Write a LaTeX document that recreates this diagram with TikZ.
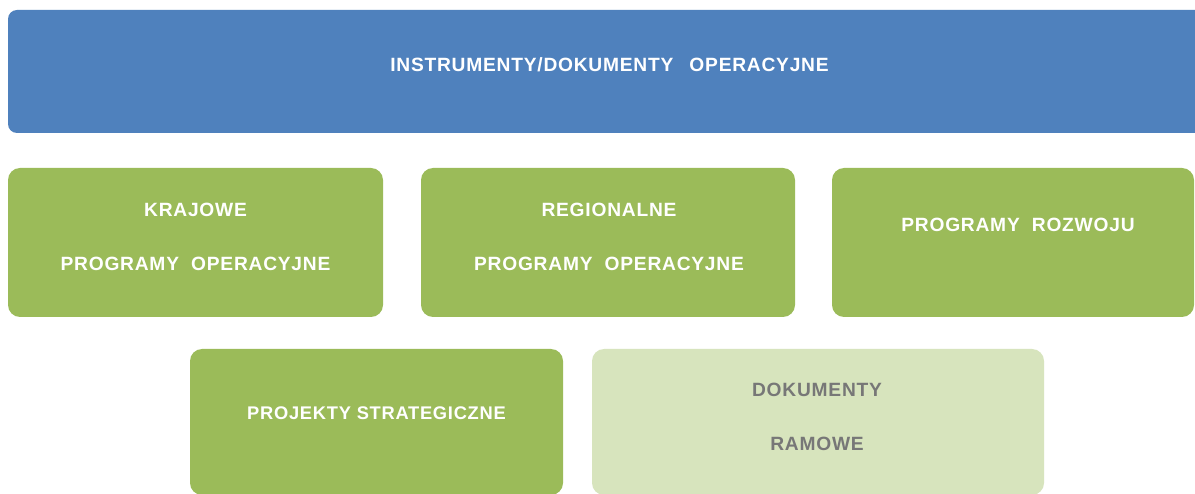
\documentclass[tikz,border=0pt]{standalone}
\usepackage{fontspec}
\setmainfont{Liberation Sans}
\newfontfamily\dfont{Liberation Sans}[LetterSpace=4]
\definecolor{oblue}{HTML}{4F81BD}
\definecolor{ogreen}{HTML}{9BBB59}
\definecolor{olight}{HTML}{D7E4BD}
\definecolor{ogray}{HTML}{777777}
\newcommand{\wsp}{\hspace{6pt}}
\tikzset{
  box/.style={rectangle, rounded corners=12pt, inner sep=0pt, draw=none},
  bluebox/.style={box, fill=oblue, rounded corners=9pt},
  greenbox/.style={box, fill=ogreen},
  lightbox/.style={box, fill=olight},
  txt/.style={font=\dfont\bfseries\fontsize{19.2}{54}\selectfont, align=center, inner sep=0pt},
  wtxt/.style={txt, text=white},
  gtxt/.style={txt, text=ogray}
}
\begin{document}
\begin{tikzpicture}[x=1pt,y=-1pt]
\useasboundingbox (0,0) rectangle (1195,494);
\clip (0,0) rectangle (1195,494);
\fill[white] (0,0) rectangle (1195,494);
% boxes
\node[bluebox, minimum width=1202pt, minimum height=123pt] (top) at (609,71.5) {};
\node[greenbox, minimum width=375pt, minimum height=149pt] (kpo) at (195.5,242.5) {};
\node[greenbox, minimum width=374pt, minimum height=149pt] (rpo) at (608,242.5) {};
\node[greenbox, minimum width=362pt, minimum height=149pt] (pr) at (1013,242.5) {};
\node[greenbox, minimum width=373pt, minimum height=146pt] (ps) at (376.5,422) {};
\node[lightbox, minimum width=452pt, minimum height=146pt] (dr) at (818,422) {};
% texts
\node[wtxt] (ttop) at (609.5,64.5) {INSTRUMENTY/DOKUMENTY\wsp\hspace{4pt} OPERACYJNE};
\node[wtxt] (tkpo) at (195.5,237) {KRAJOWE\\PROGRAMY\wsp{} OPERACYJNE};
\node[wtxt] (trpo) at (609,237) {REGIONALNE\\PROGRAMY\wsp{} OPERACYJNE};
\node[wtxt] (tpr) at (1018,225) {PROGRAMY\wsp{} ROZWOJU};
\node[wtxt, font=\dfont\bfseries\fontsize{18.3}{54}\selectfont] (tps) at (376.5,413) {PROJEKTY STRATEGICZNE};
\node[gtxt] (tdr) at (817,417) {DOKUMENTY\\RAMOWE};
\end{tikzpicture}
\end{document}
